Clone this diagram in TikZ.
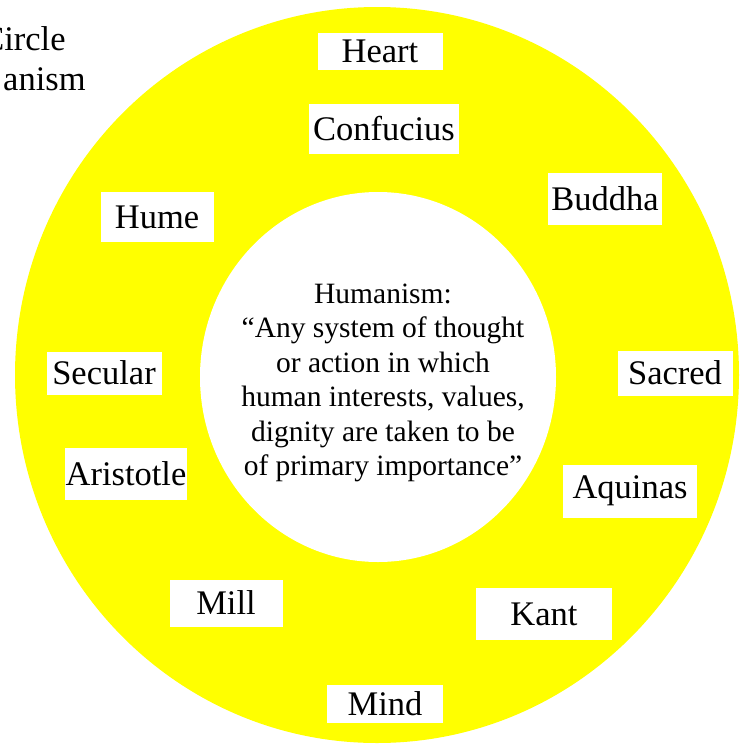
\documentclass[tikz,border=0pt]{standalone}
\usepackage{fontspec}
\setmainfont{Liberation Serif}
\usepackage{xcolor}
\usepackage{tikz}
\usetikzlibrary{positioning}
\definecolor{ringyellow}{RGB}{255,255,0}

\begin{document}
\begin{tikzpicture}[
  x=0.5pt, y=-0.5pt,
  namebox/.style={rectangle, fill=white, inner sep=0pt, font=\fontsize{17.25}{20}\selectfont, text=black},
  coretext/.style={align=center, font=\fontsize{14.75}{17.25}\selectfont, text=black},
  titletext/.style={font=\fontsize{17.25}{20}\selectfont, inner sep=0pt}
]
\useasboundingbox (0,0) rectangle (741,745);
\fill[ringyellow] (377,375) ellipse [x radius=362, y radius=368];
\fill[white] (378,377) ellipse [x radius=178, y radius=185];

\node[titletext, anchor=base east] (title1) at (66,50) {Circle};
\node[titletext, anchor=base east] (title2) at (86,90) {anism};

\node[namebox, minimum width=62.5pt, minimum height=18.5pt] (heart) at (380,51) {Heart};
\node[namebox, minimum width=75pt, minimum height=25pt] (confucius) at (384,129) {Confucius};
\node[namebox, minimum width=57pt, minimum height=26pt] (buddha) at (605,199) {Buddha};
\node[namebox, minimum width=56.5pt, minimum height=25pt] (hume) at (157,217) {Hume};
\node[namebox, minimum width=57.5pt, minimum height=21.5pt] (secular) at (104,373) {Secular};
\node[namebox, minimum width=57.5pt, minimum height=22.5pt] (sacred) at (675,373) {Sacred};
\node[namebox, minimum width=61pt, minimum height=26pt] (aristotle) at (126,474) {Aristotle};
\node[namebox, minimum width=67pt, minimum height=26.5pt] (aquinas) at (630,491) {Aquinas};
\node[namebox, minimum width=56.5pt, minimum height=23.5pt] (mill) at (226,603) {Mill};
\node[namebox, minimum width=68pt, minimum height=26pt] (kant) at (544,614) {Kant};
\node[namebox, minimum width=58pt, minimum height=19pt] (mind) at (385,704) {Mind};

\node[coretext] (core) at (383,383) {Humanism:\\``Any system of thought\\or action in which\\human interests, values,\\dignity are taken to be\\of primary importance''};
\end{tikzpicture}
\end{document}
